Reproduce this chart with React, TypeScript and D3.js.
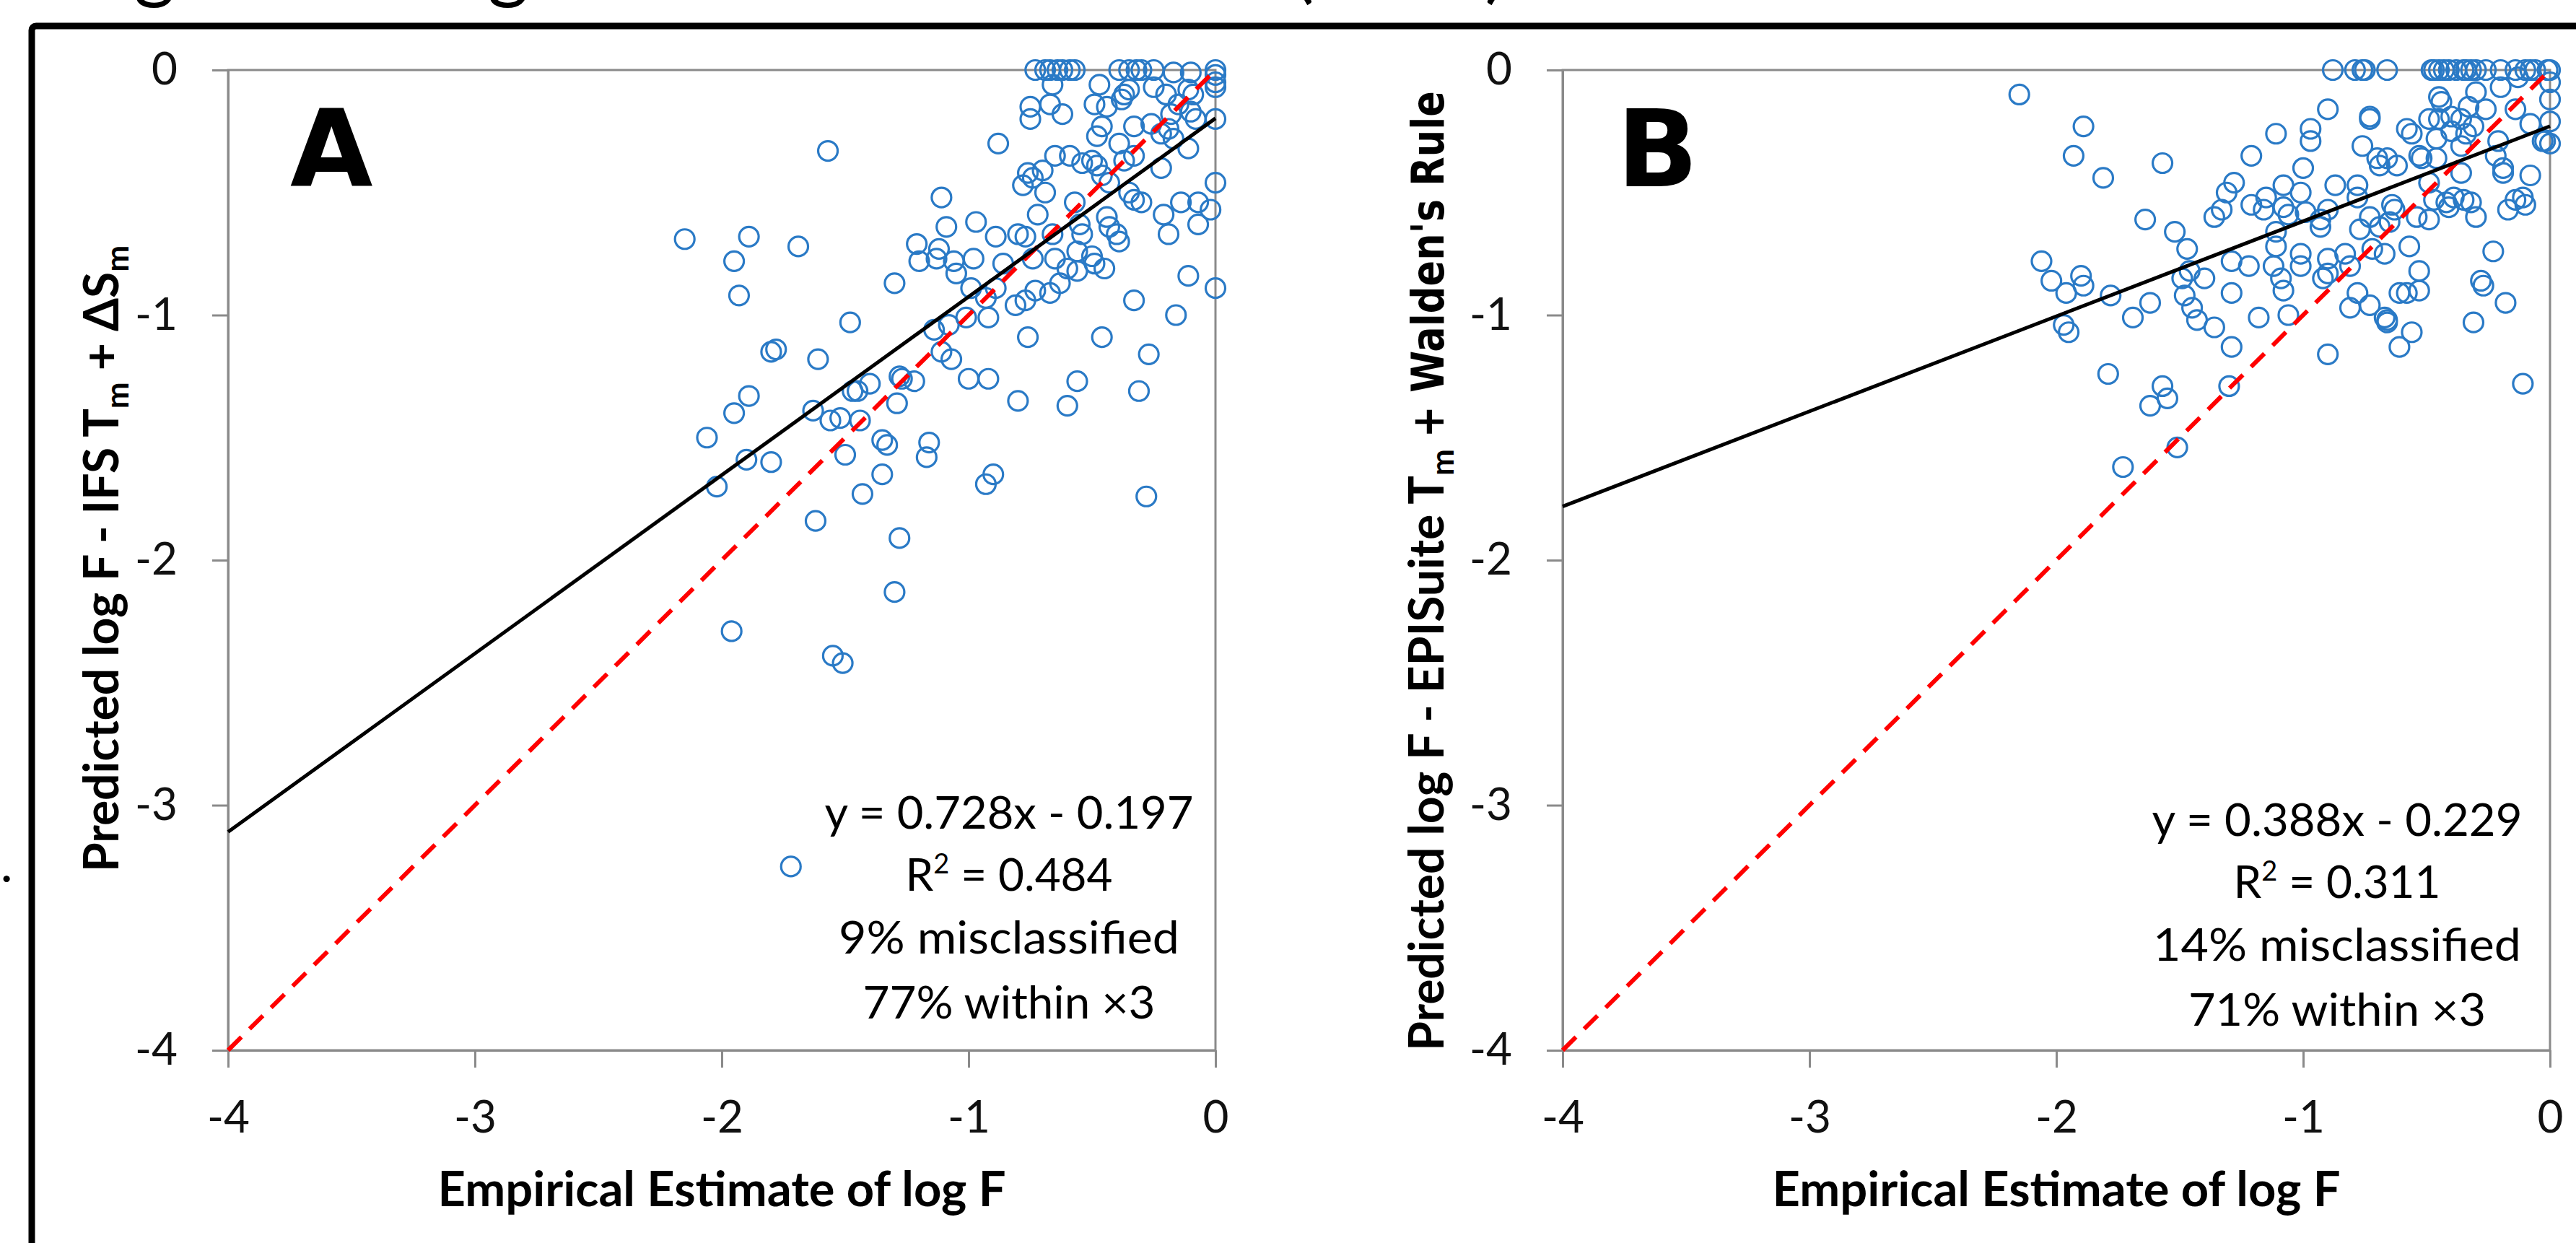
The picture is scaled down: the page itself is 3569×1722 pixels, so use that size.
// @ts-nocheck
import React, { useEffect, useRef } from "react";
import * as d3 from "d3";

const axisTicks = [-4, -3, -2, -1, 0];

// Panel A: Predicted (IFS Tm + dSm) vs empirical log F
const panelAPoints = [
  [-1.57, -0.33], [-2.15, -0.69], [-1.89, -0.68], [-1.95, -0.78], [-1.93, -0.92],
  [-1.69, -0.72], [-1.3, -0.87], [-1.21, -0.71], [-1.2, -0.78], [-1.48, -1.03],
  [-1.8, -1.15], [-1.78, -1.14], [-1.61, -1.18], [-1.89, -1.33], [-1.95, -1.4],
  [-2.06, -1.5], [-1.9, -1.59], [-1.8, -1.6], [-2.02, -1.7], [-1.63, -1.39],
  [-1.56, -1.43], [-1.52, -1.42], [-1.47, -1.31], [-1.45, -1.31], [-1.4, -1.28],
  [-1.44, -1.43], [-1.28, -1.25], [-1.27, -1.26], [-1.22, -1.27], [-1.29, -1.36],
  [-1.5, -1.57], [-1.35, -1.51], [-1.33, -1.53], [-1.35, -1.65], [-1.43, -1.73],
  [-1.16, -1.52], [-1.17, -1.58], [-1.62, -1.84], [-1.28, -1.91], [-1.3, -2.13],
  [-1.96, -2.29], [-1.55, -2.39], [-1.51, -2.42], [-1.72, -3.25],
  [-0.73, 0], [-0.69, 0], [-0.67, 0], [-0.64, 0], [-0.62, 0], [-0.59, 0], [-0.57, 0],
  [-0.39, 0], [-0.35, 0], [-0.32, 0], [-0.3, 0], [-0.25, 0], [-0.17, -0.01], [-0.1, -0.01],
  [0, 0], [0, -0.02], [0, -0.05], [0, -0.07],
  [-0.66, -0.06], [-0.47, -0.06], [-0.35, -0.08], [-0.25, -0.07], [-0.2, -0.1], [-0.11, -0.08],
  [-0.09, -0.1], [-0.75, -0.15], [-0.75, -0.2], [-0.67, -0.14], [-0.62, -0.18], [-0.49, -0.14],
  [-0.44, -0.15], [-0.38, -0.12], [-0.37, -0.1], [-0.18, -0.18], [-0.15, -0.14], [-0.1, -0.17],
  [0, -0.2], [-0.08, -0.2], [-0.88, -0.3], [-0.46, -0.23], [-0.48, -0.27], [-0.39, -0.3],
  [-0.33, -0.23], [-0.26, -0.22], [-0.22, -0.26], [-0.19, -0.24], [-0.17, -0.28], [-0.11, -0.32],
  [-0.65, -0.35], [-0.59, -0.35], [-0.54, -0.38], [-0.5, -0.37], [-0.48, -0.39], [-0.37, -0.37],
  [-0.33, -0.35], [-0.22, -0.4], [0, -0.46], [-0.76, -0.42], [-0.78, -0.47], [-0.74, -0.44],
  [-0.7, -0.41], [-0.69, -0.5], [-0.46, -0.43], [-0.43, -0.46], [-0.35, -0.5], [-0.33, -0.53],
  [-0.3, -0.54], [-0.14, -0.54], [-0.07, -0.54], [-0.02, -0.57], [-1.11, -0.52], [-0.97, -0.62],
  [-1.09, -0.64], [-0.72, -0.59], [-0.57, -0.54], [-0.55, -0.63], [-0.54, -0.67], [-0.44, -0.6],
  [-0.43, -0.64], [-0.4, -0.67], [-0.39, -0.7], [-0.89, -0.68], [-0.8, -0.67], [-0.77, -0.68],
  [-0.66, -0.67], [-0.21, -0.59], [-0.19, -0.67], [-0.07, -0.63], [-1.12, -0.73], [-1.13, -0.77],
  [-1.06, -0.78], [-1.05, -0.83], [-0.98, -0.77], [-0.86, -0.79], [-0.74, -0.77], [-0.65, -0.77],
  [-0.56, -0.74], [-0.6, -0.81], [-0.56, -0.82], [-0.5, -0.76], [-0.49, -0.79], [-0.45, -0.81],
  [-0.11, -0.84], [0, -0.89], [-0.99, -0.89], [-0.93, -0.93], [-0.89, -0.89], [-0.81, -0.96],
  [-0.77, -0.94], [-0.73, -0.9], [-0.67, -0.91], [-0.63, -0.87], [-0.33, -0.94], [-0.16, -1.0],
  [-1.01, -1.01], [-0.92, -1.01], [-1.14, -1.06], [-1.08, -1.04], [-0.76, -1.09], [-0.46, -1.09],
  [-0.27, -1.16], [-1.11, -1.15], [-1.07, -1.18], [-1.0, -1.26], [-0.92, -1.26], [-0.56, -1.27],
  [-0.31, -1.31], [-0.8, -1.35], [-0.6, -1.37], [-0.9, -1.65], [-0.93, -1.69], [-0.28, -1.74],
];

// Panel B: Predicted (EPISuite Tm + Walden's Rule) vs empirical log F
const panelBPoints = [
  [-2.15, -0.1], [-1.89, -0.23], [-1.93, -0.35], [-1.81, -0.44], [-1.57, -0.38], [-1.64, -0.61],
  [-1.52, -0.66], [-1.47, -0.73], [-1.21, -0.35], [-1.11, -0.26], [-1.28, -0.46], [-1.31, -0.5],
  [-1.33, -0.57], [-1.36, -0.6], [-1.21, -0.55], [-1.15, -0.52], [-1.16, -0.57], [-1.08, -0.47],
  [-1.08, -0.56], [-1.11, -0.66], [-1.11, -0.72], [-1.12, -0.8], [-1.09, -0.85], [-1.08, -0.9],
  [-1.06, -1.0], [-2.06, -0.78], [-2.02, -0.86], [-1.96, -0.91], [-1.9, -0.84], [-1.89, -0.88],
  [-1.97, -1.04], [-1.95, -1.07], [-1.78, -0.92], [-1.69, -1.01], [-1.62, -0.95], [-1.49, -0.85],
  [-1.46, -0.82], [-1.4, -0.85], [-1.48, -0.92], [-1.45, -0.97], [-1.43, -1.02], [-1.36, -1.05],
  [-1.29, -0.78], [-1.22, -0.8], [-1.29, -0.91], [-1.29, -1.13], [-1.18, -1.01], [-1.79, -1.24],
  [-1.57, -1.29], [-1.55, -1.34], [-1.62, -1.37], [-1.3, -1.29], [-1.51, -1.54], [-1.73, -1.62],
  [-0.88, 0], [-0.79, 0], [-0.76, 0], [-0.75, 0], [-0.66, 0], [-0.48, 0], [-0.47, 0], [-0.45, 0],
  [-0.43, 0], [-0.41, 0], [-0.38, 0], [-0.35, 0], [-0.34, 0], [-0.32, 0], [-0.3, 0], [-0.26, 0],
  [-0.2, 0], [-0.14, 0], [-0.1, 0], [-0.08, 0], [-0.06, 0], [-0.01, 0], [0, 0],
  [-0.2, -0.07], [-0.13, -0.03], [0, -0.05], [0, -0.12], [0, -0.21], [-0.02, -0.29], [0, -0.3],
  [-0.03, -0.29], [-0.9, -0.16], [-0.73, -0.19], [-0.73, -0.2], [-0.97, -0.24], [-0.97, -0.29],
  [-0.76, -0.31], [-0.45, -0.11], [-0.44, -0.13], [-0.3, -0.09], [-0.33, -0.15], [-0.26, -0.16],
  [-0.14, -0.16], [-0.08, -0.22], [-0.49, -0.2], [-0.45, -0.2], [-0.4, -0.19], [-0.36, -0.2],
  [-0.31, -0.23], [-0.58, -0.24], [-0.56, -0.26], [-0.46, -0.28], [-0.4, -0.25], [-0.34, -0.26],
  [-0.36, -0.31], [-0.21, -0.29], [-0.22, -0.35], [-0.19, -0.4], [-0.19, -0.42], [-0.08, -0.43],
  [-0.7, -0.36], [-0.66, -0.36], [-0.69, -0.39], [-0.62, -0.39], [-0.53, -0.35], [-0.52, -0.36],
  [-0.46, -0.36], [-0.36, -0.42], [-1.0, -0.4], [-1.01, -0.5], [-0.87, -0.47], [-0.78, -0.47],
  [-0.78, -0.52], [-1.06, -0.59], [-0.99, -0.58], [-0.9, -0.57], [-0.93, -0.61], [-0.93, -0.64],
  [-0.73, -0.6], [-0.77, -0.65], [-0.69, -0.64], [-0.64, -0.55], [-0.63, -0.57], [-0.65, -0.62],
  [-0.54, -0.6], [-0.49, -0.61], [-0.49, -0.46], [-0.47, -0.53], [-0.42, -0.54], [-0.41, -0.56],
  [-0.39, -0.52], [-0.35, -0.53], [-0.32, -0.54], [-0.3, -0.6], [-0.17, -0.57], [-0.14, -0.53],
  [-0.11, -0.52], [-0.1, -0.55], [-1.01, -0.75], [-1.01, -0.8], [-0.9, -0.77], [-0.83, -0.75],
  [-0.9, -0.83], [-0.92, -0.85], [-0.81, -0.8], [-0.78, -0.91], [-0.81, -0.97], [-0.73, -0.96],
  [-0.67, -1.01], [-0.66, -1.03], [-0.66, -1.02], [-0.57, -0.72], [-0.67, -0.75], [-0.72, -0.73],
  [-0.53, -0.82], [-0.61, -0.91], [-0.58, -0.91], [-0.53, -0.9], [-0.56, -1.07], [-0.61, -1.13],
  [-0.9, -1.16], [-0.23, -0.74], [-0.28, -0.86], [-0.27, -0.88], [-0.18, -0.95], [-0.31, -1.03],
  [-0.11, -1.28],
];

const panelAFit = { slope: 0.728, intercept: -0.197 };
const panelBFit = { slope: 0.388, intercept: -0.229 };

const panelAStats = ["y = 0.728x - 0.197", "0.484", "9% misclassified", "77% within ×3"];
const panelBStats = ["y = 0.388x - 0.229", "0.311", "14% misclassified", "71% within ×3"];

const xTitle = "Empirical Estimate of log F";

const W = 3569;
const H = 1722;
const TOP = 97;
const BOTTOM = 1455;
const PLOT_W = 1368;
const GRAY = "#8a8a8a";
const BLUE = "#2a7ac6";
const FONT = "Lato, 'Open Sans', sans-serif";

function drawPanel(svg, cfg) {
  const x = d3.scaleLinear().domain([-4, 0]).range([cfg.left, cfg.left + PLOT_W]);
  const y = d3.scaleLinear().domain([-4, 0]).range([BOTTOM, TOP]);
  const g = svg.append("g");

  // plot area border
  g.append("rect")
    .attr("x", x(-4))
    .attr("y", y(0))
    .attr("width", x(0) - x(-4))
    .attr("height", y(-4) - y(0))
    .attr("fill", "none")
    .attr("stroke", GRAY)
    .attr("stroke-width", 3);

  const yAxis = g
    .append("g")
    .attr("transform", `translate(${x(-4)},0)`)
    .call(
      d3.axisLeft(y).tickValues(axisTicks).tickSize(22).tickSizeOuter(0).tickPadding(48)
        .tickFormat((d) => String(d)),
    );
  const xAxis = g
    .append("g")
    .attr("transform", `translate(0,${y(-4)})`)
    .call(
      d3.axisBottom(x).tickValues(axisTicks).tickSize(24).tickSizeOuter(0).tickPadding(46)
        .tickFormat((d) => String(d)),
    );
  [yAxis, xAxis].forEach((a) => {
    a.select(".domain").attr("stroke", GRAY).attr("stroke-width", 3);
    a.selectAll(".tick line").attr("stroke", GRAY).attr("stroke-width", 3);
    a.selectAll(".tick text")
      .attr("fill", "#111")
      .style("font-family", FONT)
      .style("font-size", "62px");
  });

  // scatter points
  g.append("g")
    .selectAll("circle")
    .data(cfg.points)
    .enter()
    .append("circle")
    .attr("cx", (d) => x(d[0]))
    .attr("cy", (d) => y(d[1]))
    .attr("r", 13.5)
    .attr("fill", "none")
    .attr("stroke", BLUE)
    .attr("stroke-width", 3.2);

  // 1:1 line
  const line = d3.line().x((d) => x(d[0])).y((d) => y(d[1]));
  g.append("path")
    .datum([[-4, -4], [0, 0]])
    .attr("d", line)
    .attr("stroke", "#ff0000")
    .attr("stroke-width", 6)
    .attr("stroke-dasharray", "26 16")
    .attr("fill", "none");

  // linear fit
  const fit = [-4, 0].map((v) => [v, cfg.fit.slope * v + cfg.fit.intercept]);
  g.append("path")
    .datum(fit)
    .attr("d", line)
    .attr("stroke", "#000")
    .attr("stroke-width", 5)
    .attr("fill", "none");

  // panel letter
  g.append("text")
    .attr("x", x(-4) + cfg.letterDx)
    .attr("y", 258)
    .text(cfg.letter)
    .style("font-family", "'DejaVu Sans', sans-serif")
    .style("font-weight", "bold")
    .style("font-size", "148px");

  // stats block
  const stats = g.append("g").style("font-family", FONT).style("font-size", "62px").attr("text-anchor", "middle");
  const s = cfg.stats;
  stats.append("text").attr("x", cfg.statsX).attr("y", cfg.statsY).attr("textLength", cfg.statW[0]).attr("lengthAdjust", "spacingAndGlyphs").text(s[0]);
  const r2 = stats.append("text").attr("x", cfg.statsX).attr("y", cfg.statsY + 86);
  r2.append("tspan").text("R");
  r2.append("tspan").attr("dy", -24).style("font-size", "38px").text("2");
  r2.append("tspan").attr("dy", 24).text(" = " + s[1]);
  stats.append("text").attr("x", cfg.statsX).attr("y", cfg.statsY + 173).attr("textLength", cfg.statW[2]).attr("lengthAdjust", "spacingAndGlyphs").text(s[2]);
  stats.append("text").attr("x", cfg.statsX).attr("y", cfg.statsY + 263).attr("textLength", cfg.statW[3]).attr("lengthAdjust", "spacingAndGlyphs").text(s[3]);

  // x title
  g.append("text")
    .attr("x", (x(-4) + x(0)) / 2)
    .attr("y", 1671)
    .attr("text-anchor", "middle")
    .attr("textLength", 787)
    .attr("lengthAdjust", "spacingAndGlyphs")
    .style("font-family", FONT)
    .style("font-weight", "bold")
    .style("font-size", "66px")
    .text(xTitle);

  // y title
  const yt = g
    .append("text")
    .attr("transform", `translate(${cfg.yTitleX},${cfg.yTitleY}) rotate(-90)`)
    .attr("text-anchor", "middle")
    .style("font-family", FONT)
    .style("font-weight", "bold")
    .style("font-size", "66px");
  cfg.yTitle(yt);
}

export default function App() {
  const ref = useRef();

  useEffect(() => {
    d3.select(ref.current).select("svg").remove();
    const svg = d3
      .select(ref.current)
      .append("svg")
      .attr("width", W)
      .attr("height", H)
      .style("position", "absolute")
      .style("left", 0)
      .style("top", 0)
      .style("background", "#fff");

    // title line cut off by the page top
    const frag = [["g", 214], ["g", 704], ["(", 1806], [")", 2072]];
    frag.forEach(([t, fx]) =>
      svg.append("text").attr("x", fx).attr("y", -9).attr("text-anchor", "middle")
        .style("font-family", FONT).style("font-size", "110px").text(t),
    );
    svg.append("text").attr("x", 2).attr("y", 1222).style("font-family", FONT)
      .style("font-weight", "bold").style("font-size", "60px").text(".");

    // black frame
    svg.append("rect")
      .attr("x", 44).attr("y", 36).attr("width", 4000).attr("height", 3000).attr("rx", 6)
      .attr("fill", "none").attr("stroke", "#000").attr("stroke-width", 9);

    drawPanel(svg, {
      left: 316,
      points: panelAPoints,
      fit: panelAFit,
      letter: "A",
      letterDx: 86,
      stats: panelAStats,
      statsX: 1398,
      statsY: 1148,
      statW: [511, 0, 472, 405],
      yTitleX: 164,
      yTitleY: 774,
      yTitle: (t) => {
        t.append("tspan").text("Predicted log F - IFS T");
        t.append("tspan").attr("dy", 14).style("font-size", "44px").text("m");
        t.append("tspan").attr("dy", -14).text(" + ΔS");
        t.append("tspan").attr("dy", 14).style("font-size", "44px").text("m");
      },
    });

    drawPanel(svg, {
      left: 2165,
      points: panelBPoints,
      fit: panelBFit,
      letter: "B",
      letterDx: 75,
      stats: panelBStats,
      statsX: 3238,
      statsY: 1158,
      statW: [513, 0, 510, 412],
      yTitleX: 2000,
      yTitleY: 791,
      yTitle: (t) => {
        t.append("tspan").text("Predicted log F - EPISuite T");
        t.append("tspan").attr("dy", 14).style("font-size", "44px").text("m");
        t.append("tspan").attr("dy", -14).text(" ");
        t.append("tspan")
          .style("font-family", "'DejaVu Sans', sans-serif")
          .style("font-size", "62px")
          .attr("textLength", 480)
          .attr("lengthAdjust", "spacingAndGlyphs")
          .text("+ Walden's Rule");
      },
    });
  }, []);

  return <div ref={ref} style={{ width: W, height: H }}></div>;
}
